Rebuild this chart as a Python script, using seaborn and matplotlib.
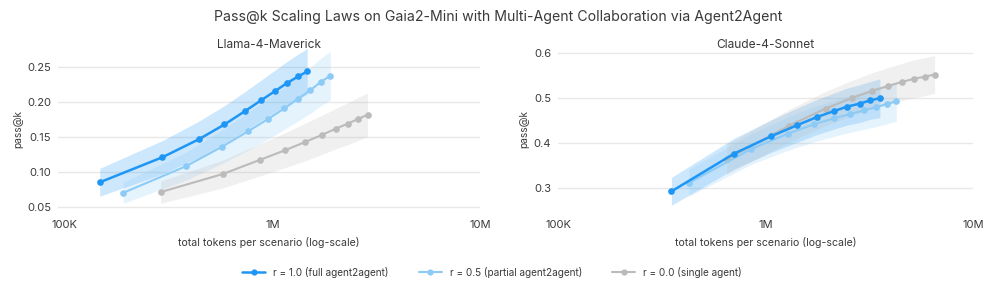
import numpy as np
import pandas as pd
import matplotlib
matplotlib.use("Agg")
import matplotlib.pyplot as plt
import seaborn as sns
from matplotlib.lines import Line2D

sns.set_theme(style="whitegrid")
plt.rcParams['font.family'] = ['Inter', 'DejaVu Sans']

# ---------------- data ----------------
series_labels = ["r = 1.0 (full agent2agent)",
                 "r = 0.5 (partial agent2agent)",
                 "r = 0.0 (single agent)"]
colors = ["#1E96F5", "#8DCBF7", "#BBBBBB"]
panel_titles = ["Llama-4-Maverick", "Claude-4-Sonnet"]

# Llama-4-Maverick (tokens in thousands)
llama_r10_tokens = [147, 295, 443, 587, 736, 885, 1030, 1170, 1330, 1470]
llama_r10_pass = [0.085, 0.121, 0.147, 0.168, 0.187, 0.203, 0.216, 0.227, 0.237, 0.244]
llama_r10_ci = [0.020, 0.024, 0.026, 0.027, 0.028, 0.029, 0.030, 0.031, 0.032, 0.033]

llama_r05_tokens = [191, 382, 571, 761, 953, 1140, 1330, 1520, 1710, 1900]
llama_r05_pass = [0.070, 0.108, 0.136, 0.158, 0.176, 0.191, 0.205, 0.217, 0.229, 0.238]
llama_r05_ci = [0.015, 0.020, 0.024, 0.027, 0.029, 0.030, 0.032, 0.033, 0.034, 0.035]

llama_r00_tokens = [289, 577, 866, 1150, 1440, 1730, 2020, 2300, 2590, 2870]
llama_r00_pass = [0.071, 0.097, 0.117, 0.131, 0.143, 0.153, 0.162, 0.169, 0.176, 0.182]
llama_r00_ci = [0.016, 0.020, 0.023, 0.025, 0.027, 0.028, 0.029, 0.030, 0.031, 0.031]

# Claude-4-Sonnet (tokens in thousands)
claude_r10_tokens = [352, 707, 1060, 1420, 1770, 2130, 2470, 2850, 3200, 3560]
claude_r10_pass = [0.293, 0.377, 0.415, 0.440, 0.458, 0.471, 0.481, 0.488, 0.495, 0.500]
claude_r10_ci = [0.031, 0.034, 0.036, 0.038, 0.039, 0.040, 0.041, 0.042, 0.042, 0.043]

claude_r05_tokens = [427, 854, 1280, 1710, 2140, 2560, 2990, 3420, 3840, 4270]
claude_r05_pass = [0.312, 0.387, 0.421, 0.442, 0.455, 0.465, 0.473, 0.480, 0.487, 0.493]
claude_r05_ci = [0.030, 0.034, 0.037, 0.039, 0.040, 0.041, 0.042, 0.043, 0.044, 0.044]

claude_r00_tokens = [650, 1300, 1950, 2600, 3250, 3910, 4550, 5190, 5890, 6530]
claude_r00_pass = [0.364, 0.439, 0.477, 0.500, 0.516, 0.527, 0.536, 0.543, 0.548, 0.5525]
claude_r00_ci = [0.033, 0.036, 0.038, 0.039, 0.040, 0.041, 0.041, 0.042, 0.042, 0.042]

xtick_vals = [1e5, 1e6, 1e7]
xtick_labels = ["100K", "1M", "10M"]
llama_yticks = [0.05, 0.10, 0.15, 0.20, 0.25]
claude_yticks = [0.3, 0.4, 0.5, 0.6]

panels = [
    [(llama_r10_tokens, llama_r10_pass, llama_r10_ci),
     (llama_r05_tokens, llama_r05_pass, llama_r05_ci),
     (llama_r00_tokens, llama_r00_pass, llama_r00_ci)],
    [(claude_r10_tokens, claude_r10_pass, claude_r10_ci),
     (claude_r05_tokens, claude_r05_pass, claude_r05_ci),
     (claude_r00_tokens, claude_r00_pass, claude_r00_ci)],
]

# ---------------- figure ----------------
W, H = 997, 296
fig = plt.figure(figsize=(W / 100, H / 100), dpi=100)
ax1 = fig.add_axes([58 / W, 1 - 213 / H, 422 / W, 168 / H])
ax2 = fig.add_axes([558 / W, 1 - 213 / H, 415 / W, 168 / H])
axes = [ax1, ax2]

text_color = "#3a3a3a"
line_widths = [1.8, 1.5, 1.5]
zorders = [5, 4, 3]

for ax, series, title in zip(axes, panels, panel_titles):
    for (tok, pk, ci), lab, col, lw, zo in zip(series, series_labels, colors, line_widths, zorders):
        df = pd.DataFrame({"tokens": np.array(tok) * 1000.0, "passk": pk, "series": lab})
        lo = np.array(pk) - np.array(ci)
        hi = np.array(pk) + np.array(ci)
        ax.fill_between(df["tokens"], lo, hi, color=col, alpha=0.22, linewidth=0, zorder=1)
        sns.lineplot(data=df, x="tokens", y="passk", ax=ax, color=col, linewidth=lw,
                     marker="o", markersize=4.8, markeredgewidth=0, legend=False,
                     errorbar=None, zorder=zo)
    ax.set_xscale("log")
    ax.set_xticks(xtick_vals)
    ax.set_xticklabels(xtick_labels)
    ax.minorticks_off()
    ax.grid(axis="x", visible=False)
    ax.grid(axis="y", color="#E8E8E8", linewidth=1.0)
    for s in ax.spines.values():
        s.set_visible(False)
    ax.tick_params(axis="both", length=0, labelsize=8, colors=text_color, pad=5)
    ax.set_xlabel("total tokens per scenario (log-scale)", fontsize=7.6, color=text_color, labelpad=5)
    ax.set_ylabel("pass@k", fontsize=7.3, color=text_color, labelpad=3)
    ax.set_title(title, fontsize=8.6, color=text_color, pad=-2)

ax1.set_xlim(10 ** (5 - 7 / 207.5), 1e7)
ax2.set_xlim(1e5, 1e7)
ax1.set_ylim(0.041, 0.282)
ax2.set_ylim(0.245, 0.618)
ax1.set_yticks(llama_yticks)
ax1.set_yticklabels([f"{v:.2f}" for v in llama_yticks])
ax2.set_yticks(claude_yticks)
ax2.set_yticklabels([f"{v:.1f}" for v in claude_yticks])

fig.text(0.5, 1 - 17 / H, "Pass@k Scaling Laws on Gaia2-Mini with Multi-Agent Collaboration via Agent2Agent",
         ha="center", va="center", fontsize=10.2, color=text_color)

handles = [Line2D([0], [0], color=c, lw=lw, marker="o", markersize=4.5, markeredgewidth=0)
           for c, lw in zip(colors, line_widths)]
fig.legend(handles, series_labels, loc="center", bbox_to_anchor=(492 / W, 1 - 272 / H), ncol=3,
           frameon=False, fontsize=7.2, handlelength=2.3, columnspacing=3.0, handletextpad=0.8,
           labelcolor=text_color)

fig.savefig("out.png", dpi=100)
